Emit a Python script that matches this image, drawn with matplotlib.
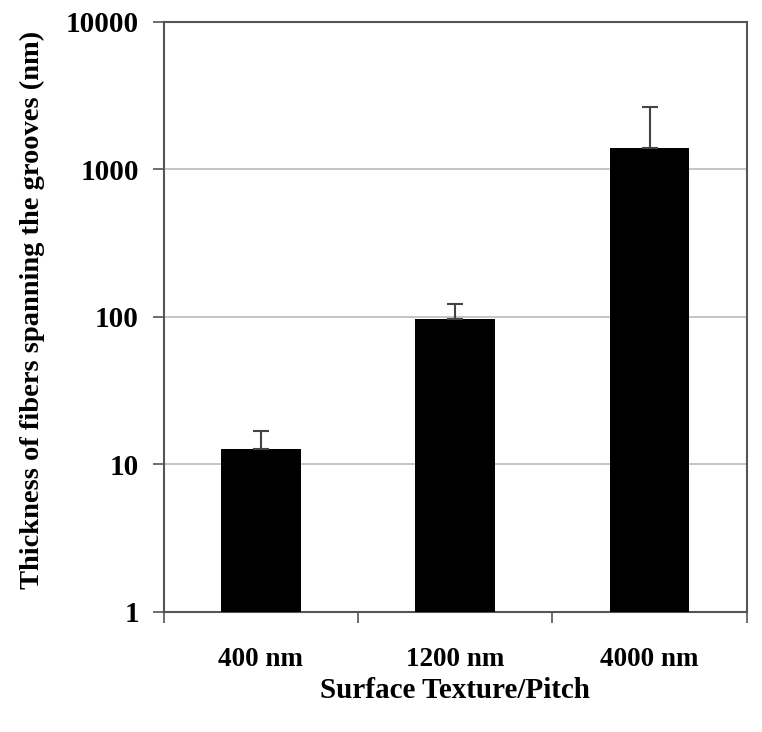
import matplotlib.pyplot as plt
import numpy as np

plt.rcParams['font.family'] = ['Liberation Serif', 'DejaVu Serif']

# data
categories = ["400 nm", "1200 nm", "4000 nm"]
thickness = [12.7, 97, 1400]
err_up = [4.2, 25, 1250]

fig = plt.figure(figsize=(7.62, 7.32), dpi=100)
ax = fig.add_axes([0.215, 0.164, 0.765, 0.806])

x = np.arange(len(categories))
ax.bar(x, thickness, width=0.41, color="black", zorder=3)
ax.errorbar(x, thickness, yerr=[np.zeros(len(err_up)), err_up], fmt="none",
            ecolor="#444444", elinewidth=1.5, capsize=5.5, capthick=1.5, zorder=4)

ax.set_yscale("log")
ax.set_ylim(1, 10000)
ax.set_xlim(-0.5, 2.5)
ax.set_yticks([1, 10, 100, 1000, 10000])
ax.set_yticklabels(["1", "10", "100", "1000", "10000"])
ax.minorticks_off()
ax.yaxis.grid(True, color="#bbbbbb", linewidth=1.2, zorder=0)

ax.set_xticks(x)
ax.set_xticklabels(categories)
ax.set_xticks([-0.5, 0.5, 1.5, 2.5], minor=True)
ax.tick_params(axis="x", which="major", length=0, pad=25)
ax.tick_params(axis="x", which="minor", length=8, width=1.2, color="#555555")
ax.tick_params(axis="y", length=8, width=1.2, color="#555555", pad=10)

for lbl in ax.get_xticklabels():
    lbl.set_fontsize(19.5)
    lbl.set_fontweight("bold")
for lbl in ax.get_yticklabels():
    lbl.set_fontsize(21)
    lbl.set_fontweight("bold")

for s in ax.spines.values():
    s.set_color("#555555")
    s.set_linewidth(1.5)

ax.set_xlabel("Surface Texture/Pitch", fontsize=21, fontweight="bold", labelpad=4)
ax.set_ylabel("Thickness of fibers spanning the grooves (nm)", fontsize=20.5,
              fontweight="bold")
ax.yaxis.set_label_coords(-0.203, 0.512)

fig.savefig("out.png", dpi=100)
